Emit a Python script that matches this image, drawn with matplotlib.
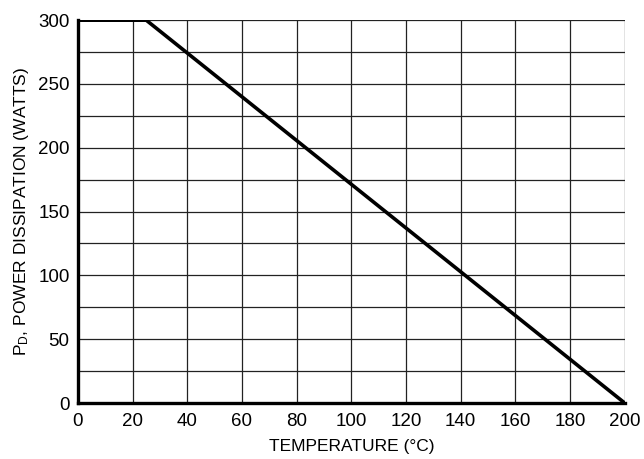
import numpy as np
import matplotlib
matplotlib.use("Agg")
import matplotlib.pyplot as plt

# derating curve: temperature (C) vs max power dissipation (W)
temp = [0, 25, 200]
power = [300, 300, 0]

x_ticks = [0, 20, 40, 60, 80, 100, 120, 140, 160, 180, 200]
y_ticks = [0, 50, 100, 150, 200, 250, 300]

plt.rcParams["font.family"] = ["Liberation Sans", "DejaVu Sans"]
plt.rcParams["mathtext.fontset"] = "custom"
plt.rcParams["mathtext.rm"] = "Liberation Sans"
plt.rcParams["mathtext.default"] = "regular"

fig = plt.figure(figsize=(6.44, 4.59), dpi=100)
ax = fig.add_axes([0.121, 0.122, 0.849, 0.834])

# grid every 20 C and 25 W
for gx in np.arange(0, 201, 20):
    ax.axvline(gx, color="#222222", lw=0.9, zorder=1)
for gy in np.arange(0, 301, 25):
    ax.axhline(gy, color="#222222", lw=0.9, zorder=1)

ax.plot(temp, power, color="black", lw=2.6, zorder=3, solid_capstyle="butt")

ax.set_xlim(0, 200)
ax.set_ylim(0, 300)
ax.set_xticks(x_ticks)
ax.set_yticks(y_ticks)
ax.tick_params(axis="x", length=0, labelsize=13.5, pad=7)
ax.tick_params(axis="y", length=0, labelsize=13.5, pad=6)

for s in ["top", "right"]:
    ax.spines[s].set_visible(False)
for s in ["left", "bottom"]:
    ax.spines[s].set_linewidth(2.4)
    ax.spines[s].set_zorder(4)

ax.set_xlabel("TEMPERATURE (°C)", fontsize=12.5, labelpad=7)
ax.set_ylabel("P$_D$, POWER DISSIPATION (WATTS)", fontsize=12.5, labelpad=5)

fig.savefig("out.png", dpi=100)
